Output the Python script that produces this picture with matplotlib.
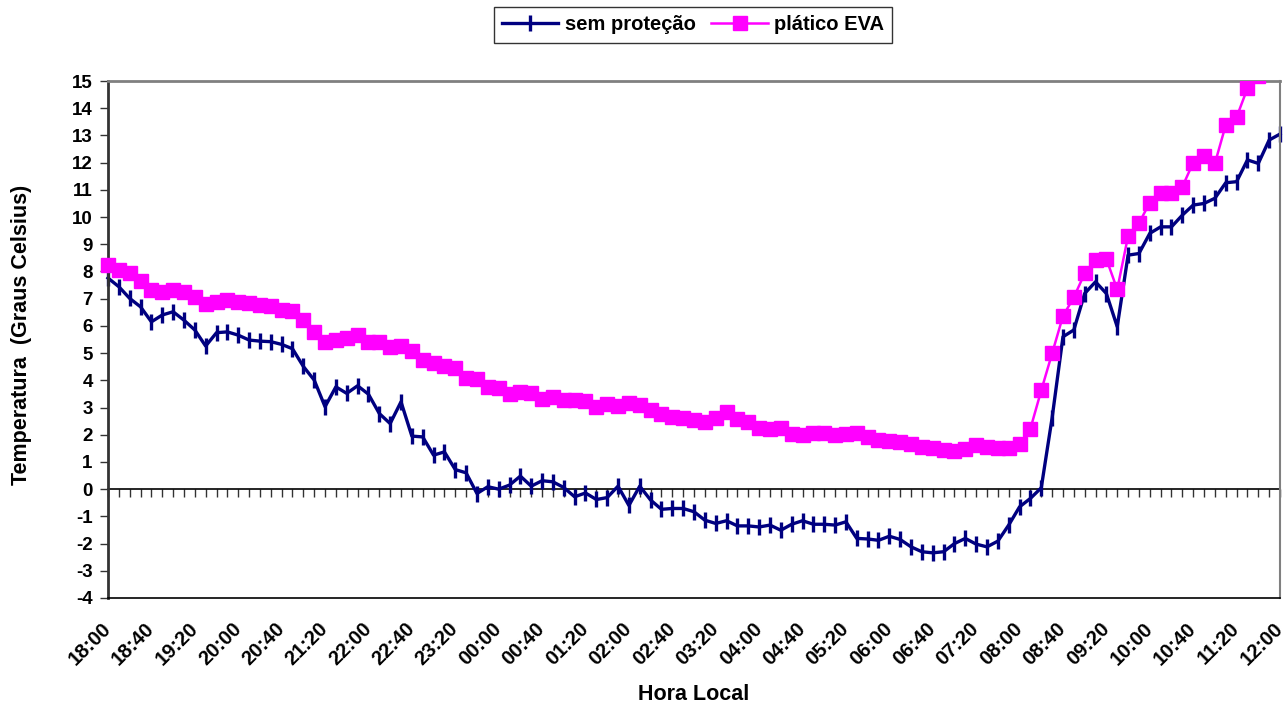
import matplotlib.pyplot as plt
import numpy as np
from matplotlib.transforms import Bbox, TransformedBbox, ScaledTranslation

plt.rcParams['font.family'] = ['Liberation Sans', 'DejaVu Sans']
plt.rcParams['font.weight'] = 'bold'
plt.rcParams['axes.unicode_minus'] = False

# Data: readings every 10 minutes from 18:00 to 12:00 (next day)
sem_protecao = [
    7.76, 7.44, 7.01, 6.70, 6.15, 6.40, 6.52, 6.21, 5.85, 5.26,
    5.75, 5.78, 5.66, 5.48, 5.44, 5.42, 5.32, 5.16, 4.51, 4.01,
    3.03, 3.76, 3.52, 3.80, 3.49, 2.78, 2.41, 3.21, 1.95, 1.92,
    1.25, 1.37, 0.72, 0.60, -0.16, 0.09, 0.00, 0.15, 0.48, 0.11,
    0.31, 0.27, 0.06, -0.28, -0.14, -0.38, -0.31, 0.11, -0.60, 0.11,
    -0.40, -0.74, -0.71, -0.71, -0.83, -1.14, -1.26, -1.16, -1.35, -1.35,
    -1.39, -1.32, -1.51, -1.29, -1.16, -1.29, -1.29, -1.32, -1.20, -1.81,
    -1.83, -1.88, -1.73, -1.85, -2.12, -2.30, -2.34, -2.30, -2.00, -1.81,
    -2.02, -2.12, -1.91, -1.32, -0.65, -0.34, 0.05, 2.62, 5.60, 5.85,
    7.19, 7.62, 7.19, 5.97, 8.60, 8.66, 9.40, 9.64, 9.64, 10.07,
    10.44, 10.50, 10.69, 11.26, 11.30, 12.10, 11.97, 12.83, 13.05,
]
platico_eva = [
    8.24, 8.05, 7.93, 7.66, 7.32, 7.25, 7.32, 7.25, 7.07, 6.80,
    6.89, 6.95, 6.89, 6.83, 6.76, 6.73, 6.58, 6.53, 6.21, 5.78,
    5.42, 5.50, 5.54, 5.66, 5.42, 5.42, 5.23, 5.26, 5.09, 4.74,
    4.62, 4.52, 4.44, 4.07, 4.03, 3.76, 3.70, 3.48, 3.58, 3.55,
    3.31, 3.39, 3.28, 3.27, 3.25, 3.03, 3.13, 3.06, 3.15, 3.09,
    2.90, 2.76, 2.66, 2.62, 2.54, 2.45, 2.62, 2.82, 2.57, 2.45,
    2.25, 2.21, 2.25, 2.02, 2.00, 2.07, 2.05, 1.99, 2.02, 2.07,
    1.91, 1.82, 1.78, 1.73, 1.67, 1.56, 1.52, 1.45, 1.42, 1.48,
    1.64, 1.56, 1.53, 1.52, 1.65, 2.22, 3.63, 4.99, 6.36, 7.05,
    7.93, 8.42, 8.46, 7.34, 9.30, 9.77, 10.53, 10.87, 10.87, 11.11,
    12.00, 12.24, 11.97, 13.38, 13.67, 14.73, 15.20, 15.60, 16.00,
]
tick_labels = [
    '18:00', '18:40', '19:20', '20:00', '20:40', '21:20', '22:00',
    '22:40', '23:20', '00:00', '00:40', '01:20', '02:00', '02:40',
    '03:20', '04:00', '04:40', '05:20', '06:00', '06:40', '07:20',
    '08:00', '08:40', '09:20', '10:00', '10:40', '11:20', '12:00',
]

x = np.arange(len(sem_protecao))

fig = plt.figure(figsize=(12.86, 7.11), dpi=100)
ax = fig.add_axes([108/1286, 1 - 598/711, (1280 - 108)/1286, (598 - 81)/711])

l1, = ax.plot(x, sem_protecao, color='#000080', lw=2.4, marker='|', ms=12,
              mew=2.4, clip_on=False, label='sem proteção', zorder=2)
l2, = ax.plot(x, platico_eva, color='#FF00FF', lw=1.8, marker='s', ms=10.5,
              mec='#FF00FF', label='plático EVA', zorder=3)
# clip only at top/bottom so the first marker is drawn over the left axis
l2.set_clip_box(TransformedBbox(Bbox([[-0.02, 0], [1.02, 1]]), ax.transAxes))

ax.set_xlim(0, len(x) - 1)
ax.set_ylim(-4, 15)
ax.set_yticks(range(-4, 16))
ax.set_xticks(x[::4])
ax.set_xticklabels(tick_labels, rotation=45, ha='right', va='center',
                   rotation_mode='anchor', fontsize=14.5, fontweight='bold')
shift = ScaledTranslation(-10/100, 0, fig.dpi_scale_trans)
for lab in ax.get_xticklabels():
    lab.set_transform(lab.get_transform() + shift)
ax.tick_params(axis='x', length=0, pad=20)
ax.tick_params(axis='y', direction='out', length=6, width=1, color='#333333',
               labelsize=13.5, pad=5)

ax.spines['left'].set_color('#333333')
ax.spines['left'].set_linewidth(2)
ax.spines['top'].set_color('#808080')
ax.spines['top'].set_linewidth(2)
ax.spines['right'].set_color('#808080')
ax.spines['right'].set_linewidth(1.5)
ax.spines['bottom'].set_color('black')
ax.spines['bottom'].set_linewidth(1.2)

# category axis drawn at zero with a tick at every reading
zero_axis = ax.secondary_xaxis(0, transform=ax.transData)
zero_axis.set_xticks(x)
zero_axis.tick_params(direction='out', length=6, width=1, color='#333333',
                      labelbottom=False)
zero_axis.spines['bottom'].set_linewidth(1.2)

fig.text(22/1286, 1 - 335/711, 'Temperatura  (Graus Celsius)', rotation=90,
         ha='center', va='center', fontsize=15.5, fontweight='bold')
fig.text(694/1286, 1 - 695/711, 'Hora Local', ha='center', va='center',
         fontsize=15.5, fontweight='bold')

fig.legend(handles=[l1, l2], loc='center', bbox_to_anchor=(693/1286, 1 - 25/711),
           ncol=2, frameon=True, fancybox=False, edgecolor='black',
           prop={'size': 14.5, 'weight': 'bold'}, handlelength=2.8,
           columnspacing=0.8, handletextpad=0.3, borderpad=0.4)

plt.savefig('out.png', dpi=100)
